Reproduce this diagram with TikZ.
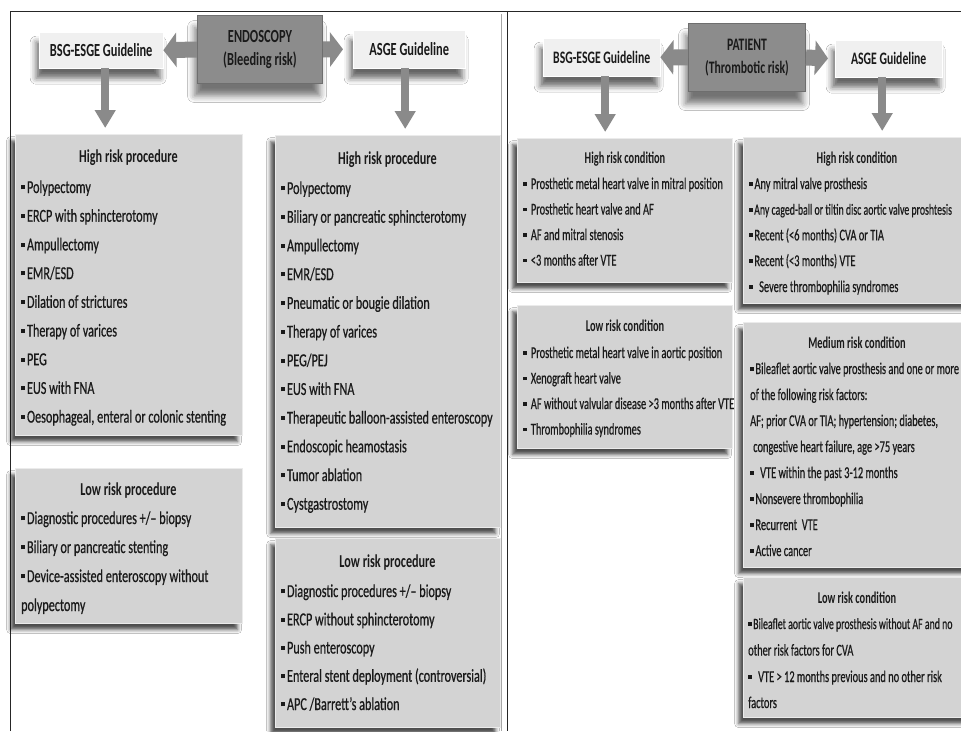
\documentclass[tikz,border=0pt]{standalone}
\usepackage{fontspec}
\setmainfont[FakeStretch=0.67, UprightFeatures={FakeBold=0.6}]{Carlito}
\newfontfamily\narrowfont[FakeStretch=0.63, UprightFeatures={FakeBold=0.5}]{Carlito}
\usetikzlibrary{arrows.meta,shadows.blur}
\definecolor{boxfill}{HTML}{D3D3D3}
\definecolor{boxedge}{HTML}{EBEBEB}
\definecolor{guidefill}{HTML}{F0F0F0}
\definecolor{mainfill}{HTML}{8C8C8C}
\definecolor{mainedge}{HTML}{6E6E6E}
\definecolor{arrowgray}{HTML}{8A8A8A}
\definecolor{textdark}{HTML}{1A1A1A}
\newcommand\bul{\rule[0.2em]{0.22em}{0.22em}\hspace{0.1em}}
\begin{document}
\begin{tikzpicture}[x=1pt,y=-1pt,
  catbox/.style={draw=boxedge, line width=1.2pt, fill=boxfill, inner sep=0pt, anchor=north west,
     blur shadow={shadow xshift=-5pt, shadow yshift=-6pt, shadow blur radius=4pt, shadow opacity=70}},
  guidebox/.style={draw=white, fill=guidefill, inner sep=0pt, anchor=north west, text=textdark,
     font=\fontsize{18.5}{23}\selectfont\bfseries,
     blur shadow={shadow xshift=-3pt, shadow yshift=-10pt, shadow blur radius=6pt, shadow opacity=60}},
  mainbox/.style={draw=mainedge, line width=1pt, fill=mainfill, inner sep=0pt, anchor=north west,
     align=center, text=textdark, font=\fontsize{18.5}{23}\selectfont\bfseries,
     blur shadow={shadow xshift=-3pt, shadow yshift=-12pt, shadow blur radius=7pt, shadow opacity=55}},
  ltitle/.style={anchor=base, inner sep=0pt, text=textdark, font=\fontsize{18.2}{22}\selectfont\bfseries},
  litem/.style={anchor=base west, inner sep=0pt, text=textdark, font=\fontsize{18.2}{22}\selectfont},
  rtitle/.style={anchor=base, inner sep=0pt, text=textdark, font=\narrowfont\fontsize{16.5}{20}\selectfont\bfseries},
  ritem/.style={anchor=base west, inner sep=0pt, text=textdark, font=\narrowfont\fontsize{16.5}{20}\selectfont},
  ritemsmall/.style={ritem, font=\narrowfont\fontsize{15.6}{20}\selectfont},
  sidearrow/.style={draw=arrowgray, line width=16pt, -{Triangle[length=13pt,width=34pt]}},
  downarrow/.style={draw=arrowgray, line width=8pt, -{Triangle[length=18pt,width=20pt]}, shorten >=6pt},
  frameline/.style={draw=black!85, line width=0.8pt}
]
\useasboundingbox (0,0) rectangle (961,731);
\clip (0,0) rectangle (961,731);
\fill[white] (0,0) rectangle (961,731);

% frame
\draw[frameline] (10,731) -- (10,11) -- (961,11);
\draw[frameline] (507,11) -- (507,731);
\draw[draw=black!35, line width=0.6pt] (501,14) -- (501,731);

% ---------- left panel ----------
\node[guidebox, minimum width=124pt, minimum height=36pt] (lbsg) at (39,32) {BSG-ESGE Guideline};
\node[mainbox, minimum width=125pt, minimum height=68pt] (lendo) at (197,15) {ENDOSCOPY\\(Bleeding risk)};
\node[guidebox, minimum width=112pt, minimum height=38pt] (lasge) at (353,30) {ASGE Guideline};

\node[catbox, minimum width=227pt, minimum height=301pt] (lhr) at (15,134) {};
\node[catbox, minimum width=227pt, minimum height=155pt] (llr) at (15,468) {};
\node[catbox, minimum width=225pt, minimum height=392pt] (mhr) at (275,135) {};
\node[catbox, minimum width=225pt, minimum height=189pt] (mlr) at (275,538) {};

\draw[sidearrow] (lendo.west) -- (lbsg.east);
\draw[sidearrow, shorten >=10pt] (lendo.east) -- (lasge.west);
\coordinate (da) at ([xshift=4pt]lbsg.south);
\coordinate (db) at ([xshift=-4pt]lasge.south);
\draw[downarrow] (da) -- (da |- lhr.north);
\draw[downarrow] (db) -- (db |- mhr.north);

\node[ltitle] (lhrt) at (128.5,162) {High risk procedure};
\foreach \t [count=\i from 0] in {Polypectomy, ERCP with sphincterotomy, Ampullectomy, EMR/ESD,
  Dilation of strictures, Therapy of varices, PEG, EUS with FNA, {Oesophageal, enteral or colonic stenting}}
  \node[litem] (lhr\i) at (21,193+28.7*\i) {\bul\t};

\node[ltitle] (llrt) at (128.5,495) {Low risk procedure};
\foreach \t [count=\i from 0] in {Diagnostic procedures +/– biopsy, Biliary or pancreatic stenting,
  Device-assisted enteroscopy without}
  \node[litem] (llr\i) at (21,524+29*\i) {\bul\t};
\node[litem] (llr3) at (21,611) {polypectomy};

\node[ltitle] (mhrt) at (387.5,164) {High risk procedure};
\foreach \t [count=\i from 0] in {Polypectomy, Biliary or pancreatic sphincterotomy, Ampullectomy, EMR/ESD,
  Pneumatic or bougie dilation, Therapy of varices, PEG/PEJ, EUS with FNA,
  Therapeutic balloon-assisted enteroscopy, Endoscopic heamostasis, Tumor ablation, Cystgastrostomy}
  \node[litem] (mhr\i) at (281,194+28.7*\i) {\bul\t};

\node[ltitle] (mlrt) at (387.5,567) {Low risk procedure};
\foreach \t [count=\i from 0] in {Diagnostic procedures +/– biopsy, ERCP without sphincterotomy,
  Push enteroscopy, Enteral stent deployment (controversial), APC /Barrett’s ablation}
  \node[litem] (mlr\i) at (281,597+28.25*\i) {\bul\t};

% ---------- right panel ----------
\node[guidebox, font=\fontsize{17.5}{22}\selectfont\bfseries, minimum width=117pt, minimum height=38pt] (rbsg) at (543,38) {BSG-ESGE Guideline};
\node[mainbox, font=\fontsize{17.5}{23}\selectfont\bfseries, minimum width=117pt, minimum height=68pt] (rpat) at (688,23) {PATIENT\\(Thrombotic risk)};
\node[guidebox, font=\fontsize{17.5}{22}\selectfont\bfseries, minimum width=107pt, minimum height=37pt] (rasge) at (835,40) {ASGE Guideline};

\node[catbox, minimum width=215pt, minimum height=144pt] (rhr) at (517,138) {};
\node[catbox, minimum width=215pt, minimum height=143pt] (rlr) at (517,305) {};
\node[catbox, minimum width=228pt, minimum height=166pt] (ahr) at (743,137) {};
\node[catbox, minimum width=228pt, minimum height=245pt] (amr) at (743,322) {};
\node[catbox, minimum width=228pt, minimum height=140pt] (alr) at (743,577) {};

\draw[sidearrow] (rpat.west) -- (rbsg.east);
\draw[sidearrow, shorten >=7pt] (rpat.east) -- (rasge.west);
\coordinate (dc) at ([xshift=3.5pt]rbsg.south);
\coordinate (dd) at ([xshift=-6.5pt]rasge.south);
\draw[downarrow] (dc) -- (dc |- rhr.north);
\draw[downarrow] (dd) -- (dd |- ahr.north);

\node[rtitle] (rhrt) at (625,163) {High risk condition};
\foreach \t [count=\i from 0] in {Prosthetic metal heart valve in mitral position, Prosthetic heart valve and AF,
  AF and mitral stenosis, <3 months after VTE}
  \node[ritem] (rhr\i) at (523,189+25.5*\i) {\bul\ \t};

\node[rtitle] (rlrt) at (625,331) {Low risk condition};
\foreach \t [count=\i from 0] in {Prosthetic metal heart valve in aortic position, Xenograft heart valve,
  AF without valvular disease >3 months after VTE, Thrombophilia syndromes}
  \node[ritem] (rlr\i) at (523,358+25.5*\i) {\bul\ \t};

\node[rtitle] (ahrt) at (857,163) {High risk condition};
\node[ritem] (ahr0) at (749,189) {\bul Any mitral valve prosthesis};
\node[ritemsmall] (ahr1) at (749,214.7) {\bul Any caged-ball or tiltin disc aortic valve proshtesis};
\node[ritem] (ahr2) at (749,240.4) {\bul Recent (<6 months) CVA or TIA};
\node[ritem] (ahr3) at (749,266.1) {\bul Recent (<3 months) VTE};
\node[ritem] (ahr4) at (749,292) {\bul\ \ Severe thrombophilia syndromes};

\node[rtitle] (amrt) at (857,348) {Medium risk condition};
\node[ritem] (amr0) at (750,374) {\bul Bileaflet aortic valve prosthesis and one or more};
\node[ritem] (amr1) at (750,400) {of the following risk factors:};
\node[ritem] (amr2) at (750,426) {AF; prior CVA or TIA; hypertension; diabetes,};
\node[ritem] (amr3) at (753,452) {congestive heart failure, age >75 years};
\node[ritem] (amr4) at (750,478) {\bul\ \ VTE within the past 3-12 months};
\node[ritem] (amr5) at (750,504) {\bul Nonsevere thrombophilia};
\node[ritem] (amr6) at (750,530) {\bul Recurrent \ VTE};
\node[ritem] (amr7) at (750,556) {\bul Active cancer};

\node[rtitle] (alrt) at (857,603) {Low risk condition};
\node[ritemsmall] (alr0) at (748,629) {\bul Bileaflet aortic valve prosthesis without AF and no};
\node[ritem] (alr1) at (748,655.5) {other risk factors for CVA};
\node[ritem] (alr2) at (748,682) {\bul\ \ VTE > 12 months previous and no other risk};
\node[ritem] (alr3) at (748,708) {factors};
\end{tikzpicture}
\end{document}
